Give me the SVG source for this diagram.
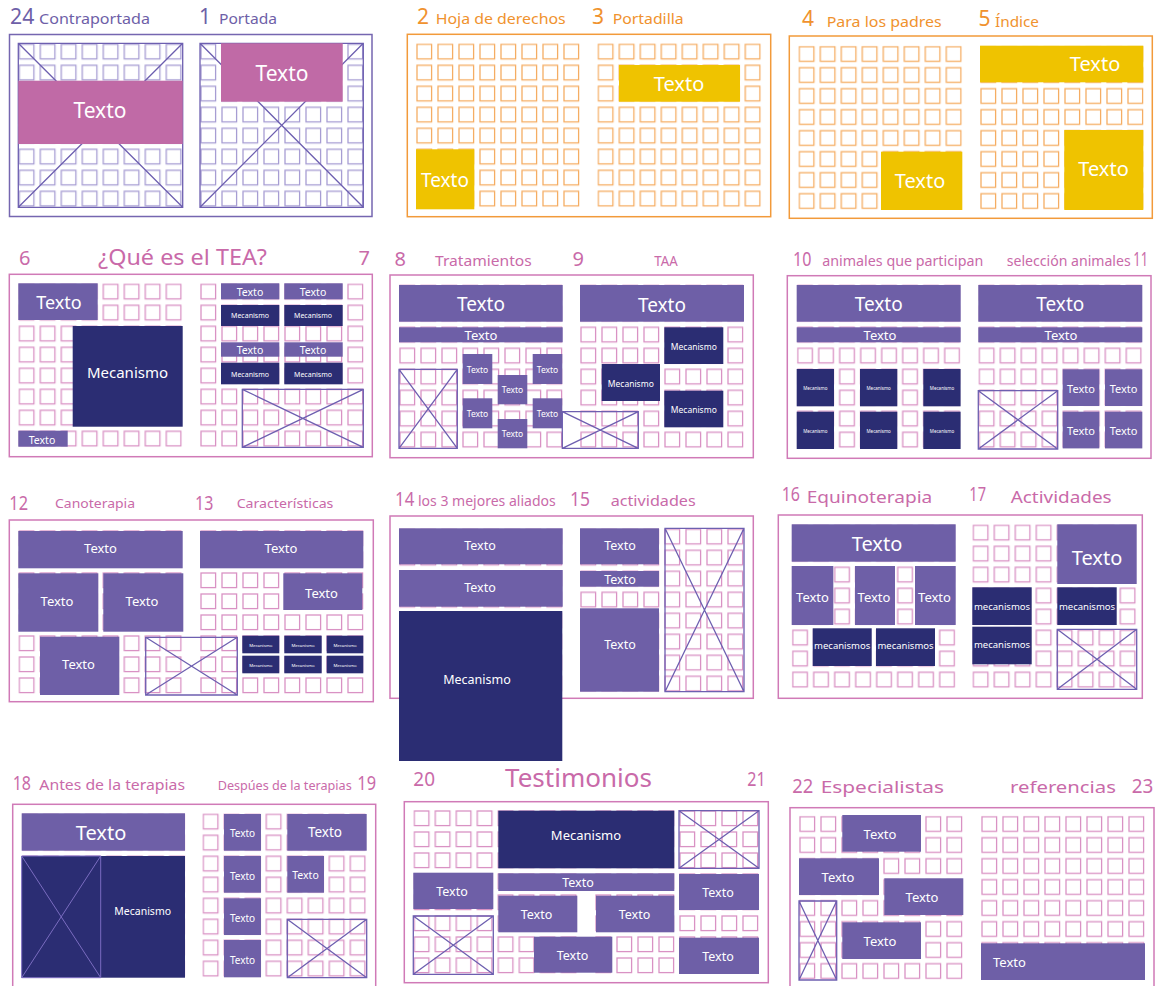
<svg xmlns="http://www.w3.org/2000/svg" width="1164" height="986" viewBox="0 0 1164 986">
<style>
text{font-family:"Noto Sans","DejaVu Sans",sans-serif}
.bg{fill:#ffffff}
.fp{fill:none;stroke:#7566b0;stroke-width:1.5}
.fo{fill:none;stroke:#f29a3a;stroke-width:1.5}
.fk{fill:none;stroke:#d07ab7;stroke-width:1.5}
.pb{fill:#6e5fa7}
.nv{fill:#2b2d73}
.pk{fill:#c06aa6}
.yl{fill:#efc300}
.x{fill:none;stroke:#6d5fb0;stroke-width:1.3}
.xl{fill:none;stroke:#7a6cc0;stroke-width:1}
.t{fill:#ffffff;text-anchor:middle;dominant-baseline:central}
.hp{fill:#6e5fa8}
.ho{fill:#f0922e}
.hk{fill:#c96aa9}
</style>
<defs>
<pattern id="gp" patternUnits="userSpaceOnUse" width="21" height="21"><rect x="1" y="1" width="14.6" height="14.6" fill="none" stroke="#a79dd3" stroke-width="1.3"/></pattern>
<pattern id="go" patternUnits="userSpaceOnUse" width="21" height="21"><rect x="1" y="1" width="14.6" height="14.6" fill="none" stroke="#f5ad63" stroke-width="1.3"/></pattern>
<pattern id="gk" patternUnits="userSpaceOnUse" width="21" height="21"><rect x="1" y="1" width="14.6" height="14.6" fill="none" stroke="#d992c4" stroke-width="1.3"/></pattern>
</defs>
<rect class="bg" x="0" y="0" width="1164" height="986"/>

<g id="spread-24-1">
<text class="hp" x="10" y="24" font-size="21" textLength="24.3" lengthAdjust="spacingAndGlyphs">24</text>
<text class="hp" x="39" y="24" font-size="15" textLength="111" lengthAdjust="spacingAndGlyphs">Contraportada</text>
<text class="hp" x="199" y="24" font-size="21">1</text>
<text class="hp" x="219" y="24" font-size="15" textLength="58" lengthAdjust="spacingAndGlyphs">Portada</text>
<rect class="fp" x="9.5" y="34.5" width="362.5" height="182"/>
<rect transform="translate(18.3,43.3)" width="164" height="164" fill="url(#gp)"/>
<rect transform="translate(200,43.3)" width="164" height="164" fill="url(#gp)"/>
<path class="x" d="M18.3 43.3H182.7V207.3H18.3ZM18.3 43.3L182.7 207.3M182.7 43.3L18.3 207.3"/>
<path class="x" d="M200 43.3H363.3V207.3H200ZM200 43.3L363.3 207.3M363.3 43.3L200 207.3"/>
<rect class="pk" x="18.3" y="80.7" width="164.4" height="63.3"/>
<text class="t" x="100" y="110" font-size="21">Texto</text>
<rect class="pk" x="221" y="43.3" width="121.7" height="58.4"/>
<text class="t" x="282" y="73" font-size="21">Texto</text>
</g>

<g id="spread-2-3">
<text class="ho" x="417" y="24" font-size="21">2</text>
<text class="ho" x="435.7" y="24" font-size="15" textLength="130" lengthAdjust="spacingAndGlyphs">Hoja de derechos</text>
<text class="ho" x="592" y="24" font-size="21">3</text>
<text class="ho" x="612.7" y="24" font-size="15" textLength="71" lengthAdjust="spacingAndGlyphs">Portadilla</text>
<rect class="fo" x="407.3" y="34.3" width="363.4" height="182.4"/>
<rect transform="translate(416,43.3)" width="164" height="164" fill="url(#go)"/>
<rect transform="translate(597.3,43.3)" width="164" height="164" fill="url(#go)"/>
<rect class="yl" x="416" y="149.3" width="58.3" height="60"/>
<text class="t" x="445" y="180" font-size="19">Texto</text>
<rect class="yl" x="619" y="65" width="121" height="36.7"/>
<text class="t" x="679" y="83.3" font-size="20">Texto</text>
</g>

<g id="spread-4-5">
<text class="ho" x="802" y="26" font-size="21">4</text>
<text class="ho" x="826.7" y="26.5" font-size="15" textLength="115" lengthAdjust="spacingAndGlyphs">Para los padres</text>
<text class="ho" x="978.5" y="26" font-size="21">5</text>
<text class="ho" x="995" y="26.5" font-size="15" textLength="44" lengthAdjust="spacingAndGlyphs">Índice</text>
<rect class="fo" x="789.3" y="36" width="363" height="182.3"/>
<rect transform="translate(798.3,45.7)" width="164" height="164" fill="url(#go)"/>
<rect transform="translate(980,45.7)" width="164" height="164" fill="url(#go)"/>
<rect class="yl" x="881" y="151.7" width="81.3" height="58.3"/>
<text class="t" x="920" y="180" font-size="20">Texto</text>
<rect class="yl" x="980" y="45.7" width="163.3" height="36.6"/>
<text class="t" x="1095" y="63.5" font-size="20">Texto</text>
<rect class="yl" x="1064.3" y="130" width="79" height="80"/>
<text class="t" x="1103.5" y="168.3" font-size="20">Texto</text>
</g>

<g id="spread-6-7">
<text class="hk" x="19" y="265" font-size="20">6</text>
<text class="hk" x="98" y="265" font-size="22" textLength="169" lengthAdjust="spacingAndGlyphs">¿Qué es el TEA?</text>
<text class="hk" x="358.5" y="265" font-size="20">7</text>
<rect class="fk" x="9.3" y="274.3" width="363" height="182.4"/>
<rect transform="translate(18.3,283.3)" width="164" height="164" fill="url(#gk)"/>
<rect transform="translate(200,283.3)" width="164" height="164" fill="url(#gk)"/>
<rect class="pb" x="18.3" y="283.3" width="79.4" height="36.7"/>
<text class="t" x="59" y="302" font-size="18">Texto</text>
<rect class="nv" x="72.7" y="326" width="110" height="100.7"/>
<text class="t" x="127.5" y="372" font-size="15">Mecanismo</text>
<rect class="pb" x="18.3" y="430.7" width="49.4" height="16"/>
<text class="t" x="42" y="439.5" font-size="10.5">Texto</text>
<rect class="pb" x="221" y="283.3" width="58.3" height="16"/>
<text class="t" x="250" y="291.5" font-size="10.5">Texto</text>
<rect class="pb" x="284.3" y="283.3" width="58.4" height="16"/>
<text class="t" x="313" y="291.5" font-size="10.5">Texto</text>
<rect class="nv" x="221" y="305" width="58.3" height="21"/>
<text class="t" x="250" y="315.5" font-size="7">Mecanismo</text>
<rect class="nv" x="284.3" y="305" width="58.4" height="21"/>
<text class="t" x="313" y="315.5" font-size="7">Mecanismo</text>
<rect class="pb" x="221" y="342.3" width="58.3" height="14.4"/>
<text class="t" x="250" y="350" font-size="10.5">Texto</text>
<rect class="pb" x="284.3" y="342.3" width="58.4" height="14.4"/>
<text class="t" x="313" y="350" font-size="10.5">Texto</text>
<rect class="nv" x="221" y="362.7" width="58.3" height="21.6"/>
<text class="t" x="250" y="374" font-size="7">Mecanismo</text>
<rect class="nv" x="284.3" y="362.7" width="58.4" height="21.6"/>
<text class="t" x="313" y="374" font-size="7">Mecanismo</text>
<path class="x" d="M242.3 389.3H363.3V447.3H242.3ZM242.3 389.3L363.3 447.3M363.3 389.3L242.3 447.3"/>
</g>

<g id="spread-8-9">
<text class="hk" x="394.5" y="265.7" font-size="20">8</text>
<text class="hk" x="435" y="265.7" font-size="13.5" textLength="96.7" lengthAdjust="spacingAndGlyphs">Tratamientos</text>
<text class="hk" x="572.5" y="265.7" font-size="20">9</text>
<text class="hk" x="654.3" y="265.7" font-size="13.5" textLength="23.4" lengthAdjust="spacingAndGlyphs">TAA</text>
<rect class="fk" x="390" y="275" width="363.3" height="182.7"/>
<rect transform="translate(399,284.3)" width="164" height="164" fill="url(#gk)"/>
<rect transform="translate(580,284.3)" width="164" height="164" fill="url(#gk)"/>
<rect class="pb" x="399" y="285" width="163.7" height="36.7"/>
<text class="t" x="481" y="303.5" font-size="19">Texto</text>
<rect class="pb" x="399" y="327.3" width="163.7" height="15"/>
<text class="t" x="481" y="335" font-size="13">Texto</text>
<path class="x" d="M399 369.3H457.3V448.3H399ZM399 369.3L457.3 448.3M457.3 369.3L399 448.3"/>
<rect class="pb" x="462.7" y="354" width="29.6" height="30"/>
<text class="t" x="477.5" y="369" font-size="8.5">Texto</text>
<rect class="pb" x="532.7" y="354" width="29.6" height="30"/>
<text class="t" x="547.5" y="369" font-size="8.5">Texto</text>
<rect class="pb" x="497.7" y="375" width="29.6" height="29.3"/>
<text class="t" x="512.5" y="389.7" font-size="8.5">Texto</text>
<rect class="pb" x="462.7" y="398.3" width="29.6" height="30"/>
<text class="t" x="477.5" y="413.3" font-size="8.5">Texto</text>
<rect class="pb" x="532.7" y="398.3" width="29.6" height="30"/>
<text class="t" x="547.5" y="413.3" font-size="8.5">Texto</text>
<rect class="pb" x="497.7" y="419" width="29.6" height="29.3"/>
<text class="t" x="512.5" y="433.7" font-size="8.5">Texto</text>
<path class="x" d="M562.3 411.7H638.3V448.3H562.3ZM562.3 411.7L638.3 448.3M638.3 411.7L562.3 448.3"/>
<rect class="pb" x="580" y="285" width="164" height="36.7"/>
<text class="t" x="662" y="304.5" font-size="19">Texto</text>
<rect class="nv" x="664.3" y="327.3" width="59" height="36.7"/>
<text class="t" x="693.8" y="346.5" font-size="8.5">Mecanismo</text>
<rect class="nv" x="601.7" y="364" width="58.3" height="37"/>
<text class="t" x="630.8" y="383" font-size="8.5">Mecanismo</text>
<rect class="nv" x="664.3" y="390.7" width="59" height="36.6"/>
<text class="t" x="693.8" y="409.7" font-size="8.5">Mecanismo</text>
</g>

<g id="spread-10-11">
<text class="hk" x="793" y="265.7" font-size="20" textLength="18.4" lengthAdjust="spacingAndGlyphs">10</text>
<text class="hk" x="822.3" y="265.7" font-size="14" textLength="161" lengthAdjust="spacingAndGlyphs">animales que participan</text>
<text class="hk" x="1006.7" y="265.7" font-size="14" textLength="124" lengthAdjust="spacingAndGlyphs">selección animales</text>
<text class="hk" x="1133.3" y="265.7" font-size="20" textLength="14.7" lengthAdjust="spacingAndGlyphs">11</text>
<rect class="fk" x="787.3" y="275.7" width="363.7" height="182.6"/>
<rect transform="translate(796.7,284.3)" width="164" height="164" fill="url(#gk)"/>
<rect transform="translate(978.3,284.3)" width="164" height="164" fill="url(#gk)"/>
<rect class="pb" x="796.7" y="285" width="164" height="36.7"/>
<text class="t" x="878.7" y="303.5" font-size="19">Texto</text>
<rect class="pb" x="796.7" y="327.3" width="164" height="15"/>
<text class="t" x="880" y="335" font-size="13">Texto</text>
<rect class="nv" x="796.7" y="369" width="37.3" height="37.3"/>
<text class="t" x="815.3" y="387.7" font-size="4.5">Mecanismo</text>
<rect class="nv" x="860" y="369" width="37.3" height="37.3"/>
<text class="t" x="878.7" y="387.7" font-size="4.5">Mecanismo</text>
<rect class="nv" x="923.3" y="369" width="37.3" height="37.3"/>
<text class="t" x="942" y="387.7" font-size="4.5">Mecanismo</text>
<rect class="nv" x="796.7" y="411.7" width="37.3" height="37.3"/>
<text class="t" x="815.3" y="431" font-size="4.5">Mecanismo</text>
<rect class="nv" x="860" y="411.7" width="37.3" height="37.3"/>
<text class="t" x="878.7" y="431" font-size="4.5">Mecanismo</text>
<rect class="nv" x="923.3" y="411.7" width="37.3" height="37.3"/>
<text class="t" x="942" y="431" font-size="4.5">Mecanismo</text>
<rect class="pb" x="978.3" y="285" width="164" height="36.7"/>
<text class="t" x="1060.3" y="303.5" font-size="19">Texto</text>
<rect class="pb" x="978.3" y="327.3" width="164" height="15"/>
<text class="t" x="1061" y="335" font-size="13">Texto</text>
<path class="x" d="M978.3 390.7H1057.7V449H978.3ZM978.3 390.7L1057.7 449M1057.7 390.7L978.3 449"/>
<rect class="pb" x="1062.7" y="369.3" width="36.6" height="36.7"/>
<text class="t" x="1081" y="388" font-size="11">Texto</text>
<rect class="pb" x="1105" y="369.3" width="37.3" height="36.7"/>
<text class="t" x="1123.6" y="388" font-size="11">Texto</text>
<rect class="pb" x="1062.7" y="411.7" width="36.6" height="36.7"/>
<text class="t" x="1081" y="430" font-size="11">Texto</text>
<rect class="pb" x="1105" y="411.7" width="37.3" height="36.7"/>
<text class="t" x="1123.6" y="430" font-size="11">Texto</text>
</g>

<g id="spread-12-13">
<text class="hk" x="9.3" y="510" font-size="20" textLength="18.7" lengthAdjust="spacingAndGlyphs">12</text>
<text class="hk" x="55" y="507.7" font-size="13" textLength="80" lengthAdjust="spacingAndGlyphs">Canoterapia</text>
<text class="hk" x="195" y="510" font-size="20" textLength="18.3" lengthAdjust="spacingAndGlyphs">13</text>
<text class="hk" x="236.7" y="507.7" font-size="13" textLength="96.7" lengthAdjust="spacingAndGlyphs">Características</text>
<rect class="fk" x="9.3" y="520" width="364" height="181.7"/>
<rect transform="translate(18.3,530)" width="164" height="164" fill="url(#gk)"/>
<rect transform="translate(200,530)" width="164" height="164" fill="url(#gk)"/>
<rect class="pb" x="18.3" y="531" width="164.4" height="37.3"/>
<text class="t" x="100.5" y="548" font-size="13">Texto</text>
<rect class="pb" x="18.3" y="573.3" width="80" height="58.4"/>
<text class="t" x="57" y="600.5" font-size="13">Texto</text>
<rect class="pb" x="103.3" y="573.3" width="80" height="58.4"/>
<text class="t" x="142" y="600.5" font-size="13">Texto</text>
<rect class="pb" x="40" y="636.7" width="79.3" height="58.3"/>
<text class="t" x="78.5" y="664" font-size="13">Texto</text>
<path class="x" d="M145.7 637.3H237.3V695H145.7ZM145.7 637.3L237.3 695M237.3 637.3L145.7 695"/>
<rect class="pb" x="200" y="531" width="163.3" height="37.3"/>
<text class="t" x="281" y="548" font-size="13">Texto</text>
<rect class="pb" x="283.3" y="573.3" width="79" height="36.7"/>
<text class="t" x="321.5" y="592.5" font-size="13">Texto</text>
<rect class="nv" x="242.3" y="635.7" width="37" height="17.6"/>
<text class="t" x="260.8" y="644.5" font-size="4.3">Mecanismo</text>
<rect class="nv" x="284.3" y="635.7" width="37.4" height="17.6"/>
<text class="t" x="303" y="644.5" font-size="4.3">Mecanismo</text>
<rect class="nv" x="326.7" y="635.7" width="36.6" height="17.6"/>
<text class="t" x="345" y="644.5" font-size="4.3">Mecanismo</text>
<rect class="nv" x="242.3" y="655.7" width="37" height="17.6"/>
<text class="t" x="260.8" y="664.5" font-size="4.3">Mecanismo</text>
<rect class="nv" x="284.3" y="655.7" width="37.4" height="17.6"/>
<text class="t" x="303" y="664.5" font-size="4.3">Mecanismo</text>
<rect class="nv" x="326.7" y="655.7" width="36.6" height="17.6"/>
<text class="t" x="345" y="664.5" font-size="4.3">Mecanismo</text>
</g>

<g id="spread-14-15">
<text class="hk" x="395" y="506" font-size="20" textLength="19.3" lengthAdjust="spacingAndGlyphs">14</text>
<text class="hk" x="418" y="506" font-size="13.5" textLength="137.7" lengthAdjust="spacingAndGlyphs">los 3 mejores aliados</text>
<text class="hk" x="570" y="505.7" font-size="20" textLength="20" lengthAdjust="spacingAndGlyphs">15</text>
<text class="hk" x="610.7" y="506" font-size="14" textLength="85" lengthAdjust="spacingAndGlyphs">actividades</text>
<rect class="fk" x="390" y="516" width="363.3" height="182.3"/>
<rect transform="translate(399,528.3)" width="164" height="164" fill="url(#gk)"/>
<rect transform="translate(580,528.3)" width="164" height="164" fill="url(#gk)"/>
<rect class="pb" x="399" y="528.3" width="163.7" height="36"/>
<text class="t" x="480" y="545" font-size="12.5">Texto</text>
<rect class="pb" x="399" y="570" width="163.7" height="36.7"/>
<text class="t" x="480" y="587" font-size="12.5">Texto</text>
<rect class="nv" x="399" y="611" width="163.3" height="150"/>
<text class="t" x="477" y="679" font-size="12.5">Mecanismo</text>
<rect class="pb" x="580" y="528.3" width="79" height="36"/>
<text class="t" x="620" y="545" font-size="12.5">Texto</text>
<rect class="pb" x="580" y="571" width="79" height="15.7"/>
<text class="t" x="620" y="579.5" font-size="12.5">Texto</text>
<rect class="pb" x="580" y="608.3" width="79" height="83.4"/>
<text class="t" x="620" y="644.5" font-size="12.5">Texto</text>
<path class="x" d="M665 528.3H744V691.7H665ZM665 528.3L744 691.7M744 528.3L665 691.7"/>
</g>

<g id="spread-16-17">
<text class="hk" x="781.7" y="500.7" font-size="20" textLength="18.3" lengthAdjust="spacingAndGlyphs">16</text>
<text class="hk" x="806.7" y="503.3" font-size="17" textLength="125.6" lengthAdjust="spacingAndGlyphs">Equinoterapia</text>
<text class="hk" x="969.3" y="500.7" font-size="20" textLength="16.7" lengthAdjust="spacingAndGlyphs">17</text>
<text class="hk" x="1010.7" y="503.3" font-size="17" textLength="101" lengthAdjust="spacingAndGlyphs">Actividades</text>
<rect class="fk" x="778.3" y="515" width="364" height="183.3"/>
<rect transform="translate(791.7,524.3)" width="164" height="164" fill="url(#gk)"/>
<rect transform="translate(972.3,524.3)" width="164" height="164" fill="url(#gk)"/>
<rect class="pb" x="791.7" y="524.3" width="164" height="37.4"/>
<text class="t" x="877" y="543.5" font-size="20">Texto</text>
<rect class="pb" x="791.7" y="566" width="41.6" height="59"/>
<text class="t" x="812.5" y="596.5" font-size="13">Texto</text>
<rect class="pb" x="855" y="566" width="40" height="59"/>
<text class="t" x="874" y="596.5" font-size="13">Texto</text>
<rect class="pb" x="915" y="566" width="40.7" height="59"/>
<text class="t" x="934.5" y="596.5" font-size="13">Texto</text>
<rect class="nv" x="812.7" y="628.3" width="59" height="37.7"/>
<text class="t" x="842.2" y="645" font-size="9.5">mecanismos</text>
<rect class="nv" x="876" y="628.3" width="59" height="37.7"/>
<text class="t" x="905.5" y="645" font-size="9.5">mecanismos</text>
<rect class="pb" x="1057.3" y="524.3" width="79.4" height="59.7"/>
<text class="t" x="1097" y="557" font-size="20">Texto</text>
<rect class="nv" x="972.3" y="587.3" width="59.4" height="37.7"/>
<text class="t" x="1002" y="606.5" font-size="9.5">mecanismos</text>
<rect class="nv" x="1057.3" y="587.3" width="59.4" height="37.7"/>
<text class="t" x="1087" y="606.5" font-size="9.5">mecanismos</text>
<rect class="nv" x="972.3" y="626.7" width="59.4" height="37.6"/>
<text class="t" x="1002" y="644.5" font-size="9.5">mecanismos</text>
<path class="x" d="M1057.3 629.3H1136.7V689.3H1057.3ZM1057.3 629.3L1136.7 689.3M1136.7 629.3L1057.3 689.3"/>
</g>

<g id="spread-18-19">
<text class="hk" x="12.7" y="790" font-size="20" textLength="18.3" lengthAdjust="spacingAndGlyphs">18</text>
<text class="hk" x="39.3" y="790" font-size="14.5" textLength="145.7" lengthAdjust="spacingAndGlyphs">Antes de la terapias</text>
<text class="hk" x="217.7" y="790" font-size="12" textLength="134" lengthAdjust="spacingAndGlyphs">Despúes de la terapias</text>
<text class="hk" x="357.3" y="790" font-size="20" textLength="18.7" lengthAdjust="spacingAndGlyphs">19</text>
<rect class="fk" x="12.7" y="804.3" width="363" height="190"/>
<rect transform="translate(21.7,813.3)" width="164" height="164" fill="url(#gk)"/>
<rect transform="translate(202.3,813.3)" width="164" height="164" fill="url(#gk)"/>
<rect class="pb" x="21.7" y="813.3" width="163.3" height="37.4"/>
<text class="t" x="101" y="832" font-size="20">Texto</text>
<rect class="nv" x="21.7" y="856" width="163.3" height="121.7"/>
<path class="xl" d="M21.7 856H100.7V977.7H21.7ZM21.7 856L100.7 977.7M100.7 856L21.7 977.7"/>
<text class="t" x="142.7" y="910.7" font-size="10.5">Mecanismo</text>
<rect class="pb" x="224" y="814" width="37" height="36.7"/>
<text class="t" x="242.5" y="833" font-size="10">Texto</text>
<rect class="pb" x="224" y="856" width="37" height="36.7"/>
<text class="t" x="242.5" y="875.5" font-size="10">Texto</text>
<rect class="pb" x="224" y="898.3" width="37" height="36.7"/>
<text class="t" x="242.5" y="917.5" font-size="10">Texto</text>
<rect class="pb" x="224" y="940" width="37" height="37.3"/>
<text class="t" x="242.5" y="959.5" font-size="10">Texto</text>
<rect class="pb" x="287.3" y="814" width="79.4" height="36.7"/>
<text class="t" x="325" y="832" font-size="13.5">Texto</text>
<rect class="pb" x="287.3" y="856" width="36.7" height="36.7"/>
<text class="t" x="305.5" y="875" font-size="10.5">Texto</text>
<path class="x" d="M287.3 919.3H366.7V977.7H287.3ZM287.3 919.3L366.7 977.7M366.7 919.3L287.3 977.7"/>
</g>

<g id="spread-20-21">
<text class="hk" x="413.3" y="786" font-size="20" textLength="21.7" lengthAdjust="spacingAndGlyphs">20</text>
<text class="hk" x="505" y="786.7" font-size="25" textLength="147" lengthAdjust="spacingAndGlyphs">Testimonios</text>
<text class="hk" x="747.3" y="786" font-size="20" textLength="18.4" lengthAdjust="spacingAndGlyphs">21</text>
<rect class="fk" x="404.3" y="801.7" width="364" height="181"/>
<rect transform="translate(413.3,810)" width="164" height="164" fill="url(#gk)"/>
<rect transform="translate(595,810)" width="164" height="164" fill="url(#gk)"/>
<rect class="nv" x="498.3" y="810.7" width="176" height="57.6"/>
<text class="t" x="586" y="835" font-size="13">Mecanismo</text>
<path class="x" d="M679 810.7H759V868.3H679ZM679 810.7L759 868.3M759 810.7L679 868.3"/>
<rect class="pb" x="413.3" y="872.7" width="80" height="36.3"/>
<text class="t" x="452" y="891" font-size="12.5">Texto</text>
<rect class="pb" x="498.3" y="873.3" width="176" height="17.7"/>
<text class="t" x="578" y="882" font-size="12.5">Texto</text>
<rect class="pb" x="679" y="874" width="80" height="36"/>
<text class="t" x="718" y="892" font-size="12.5">Texto</text>
<path class="x" d="M413.3 916H493.3V974.3H413.3ZM413.3 916L493.3 974.3M493.3 916L413.3 974.3"/>
<rect class="pb" x="498.3" y="895.7" width="79" height="36.6"/>
<text class="t" x="536.5" y="914" font-size="12.5">Texto</text>
<rect class="pb" x="596" y="895.7" width="78.3" height="36.6"/>
<text class="t" x="634.5" y="914" font-size="12.5">Texto</text>
<rect class="pb" x="534" y="936.7" width="78.3" height="36"/>
<text class="t" x="572.5" y="955" font-size="12.5">Texto</text>
<rect class="pb" x="679" y="937.7" width="80" height="36.3"/>
<text class="t" x="718" y="956" font-size="12.5">Texto</text>
</g>

<g id="spread-22-23">
<text class="hk" x="792.3" y="792.7" font-size="20" textLength="21" lengthAdjust="spacingAndGlyphs">22</text>
<text class="hk" x="820.7" y="792.7" font-size="17" textLength="123.3" lengthAdjust="spacingAndGlyphs">Especialistas</text>
<text class="hk" x="1010" y="792.7" font-size="17" textLength="106" lengthAdjust="spacingAndGlyphs">referencias</text>
<text class="hk" x="1131.7" y="792.7" font-size="20" textLength="21.6" lengthAdjust="spacingAndGlyphs">23</text>
<rect class="fk" x="790" y="807.7" width="364" height="190"/>
<rect transform="translate(799,815.7)" width="164" height="164" fill="url(#gk)"/>
<rect transform="translate(981,815.7)" width="164" height="164" fill="url(#gk)"/>
<rect class="pb" x="842.3" y="815" width="78.7" height="36.7"/>
<text class="t" x="880" y="833.5" font-size="13">Texto</text>
<rect class="pb" x="799" y="858.3" width="80" height="36.7"/>
<text class="t" x="838" y="877" font-size="13">Texto</text>
<rect class="pb" x="884.3" y="878.3" width="79" height="36.7"/>
<text class="t" x="922" y="897" font-size="13">Texto</text>
<path class="x" d="M799 901H836.7V980H799ZM799 901L836.7 980M836.7 901L799 980"/>
<rect class="pb" x="842.3" y="922.3" width="78.7" height="36.7"/>
<text class="t" x="880" y="941" font-size="13">Texto</text>
<rect class="pb" x="981" y="943.3" width="164" height="36.7"/>
<text class="t" x="993" y="961.7" font-size="13" style="text-anchor:start">Texto</text>
</g>
</svg>
